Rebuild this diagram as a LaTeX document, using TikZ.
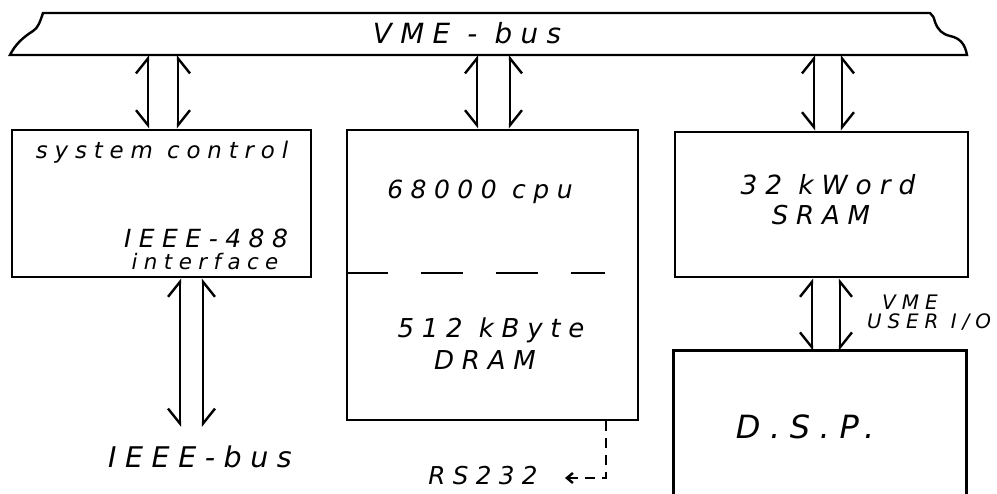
\documentclass[tikz,border=0pt]{standalone}
\usepackage{fontspec}
\newfontfamily\hand[LetterSpace=30]{DejaVu Sans}
\usetikzlibrary{arrows.meta}

\begin{document}
\begin{tikzpicture}[x=1pt,y=-1pt,line width=2.4pt,
  box/.style={draw,line width=2.8pt,inner sep=0pt},
  txt/.style={font=\hand\itshape\fontsize{#1}{#1}\selectfont,inner sep=0pt},
  lbar/.style={{Straight Barb[right,length=15pt,width=24pt]}-{Straight Barb[left,length=15pt,width=24pt]}},
  rbar/.style={{Straight Barb[left,length=15pt,width=24pt]}-{Straight Barb[right,length=15pt,width=24pt]}}]
\useasboundingbox (0,0) rectangle (997,494);
% VME bus
\draw (43,13) .. controls (40,22) and (38,28) .. (33,31) .. controls (22,38) and (15,45) .. (10,55) -- (967,55) .. controls (965,44) and (960,38) .. (950,36) .. controls (942,34) and (938,30) .. (935,22) .. controls (934,18) and (933,15) .. (930,13) -- cycle;
\coordinate (busb) at (0,55);
\node[txt=27.8] (vme) at (467,33) {VME - bus};
% boxes
\node[box,minimum width=299pt,minimum height=147pt] (ctrl) at (161.5,203.5) {};
\node[box,minimum width=291pt,minimum height=290pt] (cpu) at (492.5,275) {};
\node[box,minimum width=293pt,minimum height=145pt] (sram) at (821.5,204.5) {};
\node[minimum width=290pt,minimum height=152pt,inner sep=0pt] (dsp) at (820,428) {};
\draw[line width=2.8pt] (dsp.south west) -- (dsp.north west) -- (dsp.north east) -- (dsp.south east);
\draw[dash pattern=on 42pt off 33pt] (cpu.west |- 0,273) -- (605,273);
% texts
\node[txt=22.9] (ctrltxt) at (162,152) {system control};
\node[txt=25] (gpib) at (206,238) {IEEE-488};
\node[txt=21.4] (intf) at (205,262) {interface};
\node[txt=25] (cputxt) at (480,192) {68000 cpu};
\node[txt=26] (dram1) at (491,330) {512 kByte};
\node[txt=26] (dram2) at (485,360) {DRAM};
\node[txt=26.4] (sram1) at (828,185) {32 kWord};
\node[txt=26] (sram2) at (821,215) {SRAM};
\node[txt=20] (vmeio) at (910,302) {VME};
\node[txt=19.9] (userio) at (929,322) {USER I/O};
\node[txt=32] (dsptxt) at (805,427) {D.S.P.};
\node[txt=28.5] (ieee) at (200,457) {IEEE-bus};
\node[txt=24.6] (rs) at (483,476) {RS232};
% connectors
\foreach \n/\a/\b in {ctrl/-13.5/16.5,cpu/-15.5/17.5,sram/-7.5/20.5} {
  \draw[lbar] ([xshift=\a]\n.north) -- ([xshift=\a]\n.north |- busb);
  \draw[rbar] ([xshift=\b]\n.north) -- ([xshift=\b]\n.north |- busb);
}
\draw[lbar] ([xshift=-8]dsp.north) -- ([xshift=-8]dsp.north |- sram.south);
\draw[rbar] ([xshift=20]dsp.north) -- ([xshift=20]dsp.north |- sram.south);
\coordinate (ieeeend) at (0,427);
\draw[lbar] ([xshift=18.5]ctrl.south |- ieeeend) -- ([xshift=18.5]ctrl.south);
\draw[rbar] ([xshift=41.5]ctrl.south |- ieeeend) -- ([xshift=41.5]ctrl.south);
\draw[dash pattern=on 10pt off 7pt,-{Straight Barb[length=6pt,width=10pt]}] (cpu.south -| 606,0) -- (606,478) -- (565,478);
\end{tikzpicture}
\end{document}
